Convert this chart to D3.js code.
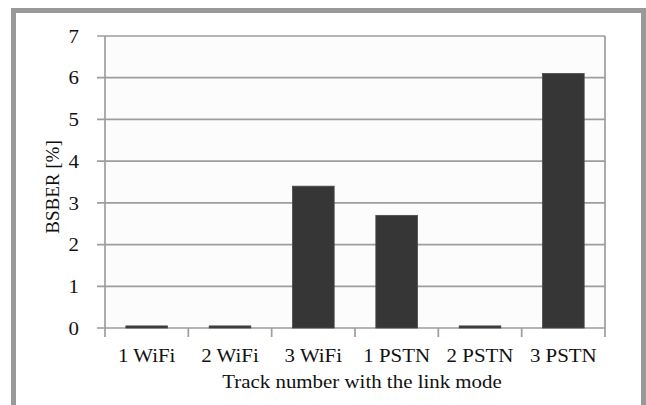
<!DOCTYPE html>
<html><head><meta charset="utf-8">
<script src="https://cdn.jsdelivr.net/npm/d3@7"></script>
<style>body{margin:0;background:#fff}</style>
</head><body>
<script>
const categories = ["1 WiFi","2 WiFi","3 WiFi","1 PSTN","2 PSTN","3 PSTN"];
const values = [0.05, 0.05, 3.4, 2.7, 0.05, 6.1];
const yTicks = [0,1,2,3,4,5,6,7];
const yLabel = "BSBER [%]";
const xLabel = "Track number with the link mode";

(function () {
const W = 646, H = 405;
const svg = d3.select("body").append("svg").attr("width", W).attr("height", H);
const font = "'Liberation Serif','Times New Roman',serif";
const grid = "#9d9d9d";
const sx = 1.1; // horizontal stretch of text seen in the reference

// outer frame
svg.append("rect").attr("x", 13.5).attr("y", 10.5).attr("width", 630).attr("height", 420)
  .attr("fill", "#fff").attr("stroke", "#999").attr("stroke-width", 5);

const pl = 105, pr = 605, pt = 36, pb = 328;
const x = d3.scaleBand().domain(categories).range([pl, pr]).paddingInner(0.5).paddingOuter(0.25);
const y = d3.scaleLinear().domain([0, 7]).range([pb, pt]);

svg.append("rect").attr("x", pl).attr("y", pt).attr("width", pr - pl).attr("height", pb - pt).attr("fill", "#fcfcfc");

// gridlines + y ticks
svg.append("g").selectAll("line").data(yTicks).join("line")
  .attr("x1", pl - 8).attr("x2", pr).attr("y1", d => y(d)).attr("y2", d => y(d))
  .attr("stroke", grid).attr("stroke-width", 1.7);

// y axis line and right border
svg.append("line").attr("x1", pl).attr("x2", pl).attr("y1", pt).attr("y2", pb + 9).attr("stroke", grid).attr("stroke-width", 1.7);
svg.append("line").attr("x1", pr).attr("x2", pr).attr("y1", pt).attr("y2", pb + 9).attr("stroke", grid).attr("stroke-width", 1.7);

// x category boundary ticks
const bounds = d3.range(1, categories.length).map(i => pl + i * (pr - pl) / categories.length);
svg.append("g").selectAll("line").data(bounds).join("line")
  .attr("x1", d => d).attr("x2", d => d).attr("y1", pb).attr("y2", pb + 9)
  .attr("stroke", grid).attr("stroke-width", 1.7);

// bars
svg.append("g").selectAll("rect").data(values).join("rect")
  .attr("x", (d, i) => x(categories[i])).attr("width", x.bandwidth())
  .attr("y", d => y(d)).attr("height", d => y(0) - y(d))
  .attr("fill", "#363636").attr("stroke", "#4a4a4a").attr("stroke-width", 0.8);

// y tick labels
svg.append("g").selectAll("text").data(yTicks).join("text")
  .attr("transform", d => `translate(79,${y(d)}) scale(${sx},1)`).attr("dy", "0.35em").attr("text-anchor", "end")
  .attr("font-family", font).attr("font-size", 19).attr("fill", "#111").text(d => d);

// x tick labels
svg.append("g").selectAll("text").data(categories).join("text")
  .attr("transform", d => `translate(${x(d) + x.bandwidth() / 2},362) scale(${sx},1)`).attr("text-anchor", "middle")
  .attr("font-family", font).attr("font-size", 19).attr("fill", "#111").text(d => d);

svg.append("text").attr("transform", `translate(362,388) scale(${sx},1)`).attr("text-anchor", "middle")
  .attr("font-family", font).attr("font-size", 19).attr("fill", "#111").text(xLabel);

svg.append("text").attr("transform", "translate(59,187) rotate(-90)").attr("text-anchor", "middle")
  .attr("font-family", font).attr("font-size", 19).attr("fill", "#111").text(yLabel);
})();
</script>
</body></html>
